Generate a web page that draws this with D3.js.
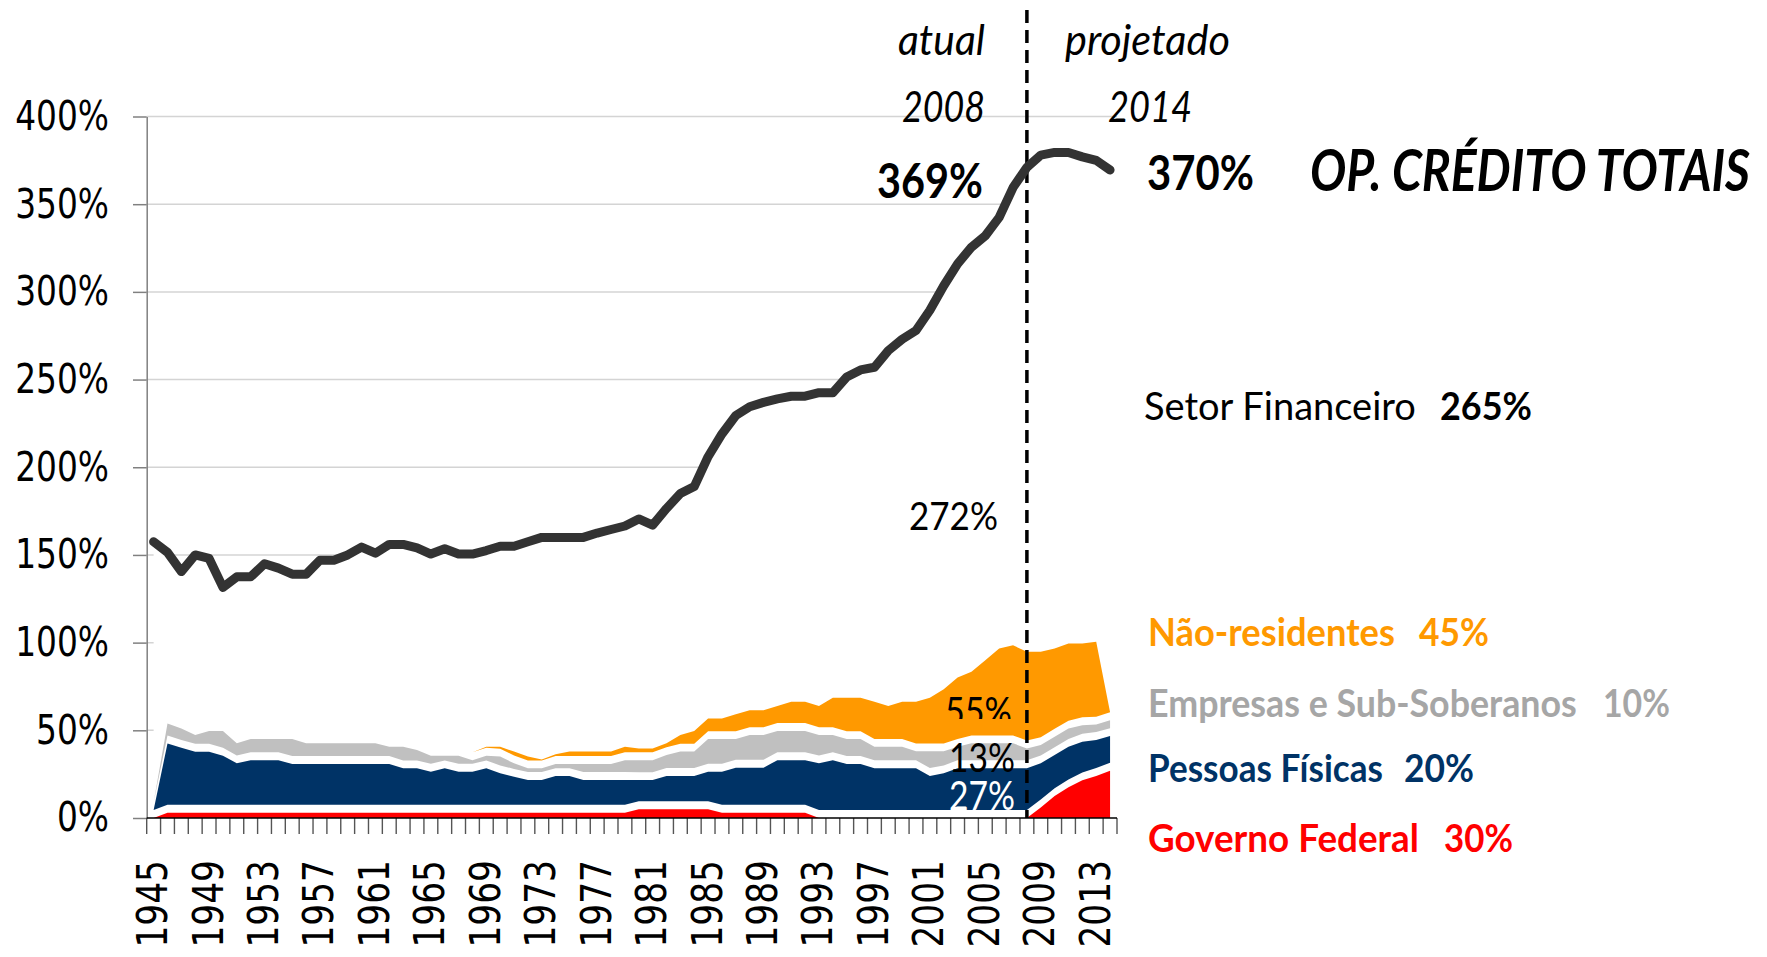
<!DOCTYPE html>
<html><head><meta charset="utf-8">
<script src="https://cdn.jsdelivr.net/npm/d3@7"></script>
<style>body{margin:0;background:#fff;} svg{display:block;}</style>
</head><body>
<svg id="chart" width="1767" height="957"></svg>
<script>
// ---------- DATA ----------
const years = [1945,1946,1947,1948,1949,1950,1951,1952,1953,1954,
  1955,1956,1957,1958,1959,1960,1961,1962,1963,1964,
  1965,1966,1967,1968,1969,1970,1971,1972,1973,1974,
  1975,1976,1977,1978,1979,1980,1981,1982,1983,1984,
  1985,1986,1987,1988,1989,1990,1991,1992,1993,1994,
  1995,1996,1997,1998,1999,2000,2001,2002,2003,2004,
  2005,2006,2007,2008,2009,2010,2011,2012,2013,2014];

// Operações de crédito totais (% do PIB)
const totalCredito = [157.5,151.5,140.5,150,148,131.5,137.5,137.5,145,142.5,
  139,139,147,147,150,154.5,151,156,156,154,
  150.5,153.5,150.5,150.5,152.5,155,155,157.5,160,160,
  160,160,162.5,164.5,166.5,170.5,167,176.5,185,189,
  206,219,229.5,234.5,237,239,240.5,240.5,242.5,242.5,
  251.5,255.5,257,266.5,273,278,289.5,303.5,316,325.5,
  332,342.5,359.5,371,378,379.5,379.5,377,375,369.5];

const governoFederal = [0,3,3,3,3,3,3,3,3,3,
  3,3,3,3,3,3,3,3,3,3,
  3,3,3,3,3,3,3,3,3,3,
  3,3,3,3,3,5,5,5,5,5,
  5,3,3,3,3,3,3,3,0,0,
  0,0,0,0,0,0,0,0,0,0,
  0,0,0,0,6,12.5,17.5,21.5,24,27];

const pessoasFisicas = [0,35,32.5,30.3,30.3,28,23.7,25.5,25.5,25.5,
  23.3,23.3,23.3,23.3,23.3,23.3,23.3,23.3,20.8,20.8,
  18.9,20.8,18.9,18.9,20.8,18,16,14.2,14.2,16.4,
  16.4,14.2,14.2,14.2,14.2,12.1,12.1,14.5,14.5,14.5,
  16.9,18.9,21.2,21.2,21.2,25.5,25.5,25.5,26.7,28.5,
  26.3,26.3,23.9,23.9,23.9,23.9,19.5,21,23.9,23.9,
  23.9,23.9,23.9,23.9,20.7,18.9,18.6,17.5,16,15.2];

const empresasSubSoberanos = [0,6.9,6.5,5,7.3,9.6,6.9,7.5,7.5,7.5,
  9.7,7.3,7.3,7.3,7.3,7.3,7.3,5.3,7.8,6,
  4.6,2.7,4.6,2.1,2.7,5,3.2,2.1,2.1,2.4,
  2.4,4.6,4.6,4.6,6.8,6.9,6.9,7.4,9.4,9.4,
  14.1,14.1,11.8,14.1,14.1,12.1,12.1,12.1,11.6,9.8,
  9.7,9.7,7.7,7.7,7.7,5.1,9.5,8,7.7,9.7,
  9.7,9.7,9.7,6.8,5.9,6,5.9,4.9,4.3,4.6];

const naoResidentes = [0,0,0,0,0,0,0,0,0,0,
  0,0,0,0,0,0,0,0,0,0,
  0,0,0,0,0.6,1.1,2.2,2.2,0.6,1,
  2.6,2.6,2.6,2.6,3.1,2.2,2.2,2.2,4.9,7.2,
  7.3,7.3,9.6,9.7,9.7,9.7,12.2,12.2,12,16.8,
  19.1,19.1,21.2,18.7,21.2,23.8,26.1,30.9,35,36.3,
  42.9,49.6,51.4,50.6,48.7,45.8,44,42.1,42.7,0];

const yTicks = [0,50,100,150,200,250,300,350,400];
const xTickLabels = [1945,1949,1953,1957,1961,1965,1969,1973,1977,1981,1985,1989,1993,1997,2001,2005,2009,2013];
const splitYear = 2008;

// ---------- STYLE ----------
const GAP = 4.5;              // white separator between stacked bands (value units)
const FONT = 'Lato, "Open Sans", "Noto Sans", sans-serif';
const AXFONT = '"DejaVu Sans", Verdana, sans-serif';
const colors = {gov:'#FF0000', pf:'#003366', emp:'#C0C0C0', nr:'#FF9900'};

const svg = d3.select('#chart');
const x = d3.scaleBand().domain(years).range([146.7, 1117]).padding(0);
const y = d3.scaleLinear().domain([0, 400]).range([818, 116.5]);
const cx = d => x(d) + x.bandwidth() / 2;

// gridlines
svg.append('g').selectAll('line').data(yTicks.filter(v => v > 0)).join('line')
  .attr('x1', x.range()[0]).attr('x2', x.range()[1])
  .attr('y1', d => y(d)).attr('y2', d => y(d))
  .attr('stroke', '#D4D4D4').attr('stroke-width', 1.5);

// table for stacking
const table = years.map((yr, i) => ({
  year: yr, gov: governoFederal[i], g1: GAP, pf: pessoasFisicas[i], g2: GAP,
  emp: empresasSubSoberanos[i], g3: GAP, nr: naoResidentes[i], total: totalCredito[i]
}));
const stack = d3.stack().keys(['gov','g1','pf','g2','emp','g3','nr']);
const layers = stack(table);

// white "Setor Financeiro" area up to total (hides gridlines), carried to the plot edge
const last = table[table.length - 1];
const whitePts = table.map(d => [cx(d.year), d.total]).concat([[x.range()[1], last.total - 12]]);
svg.append('path').datum(whitePts)
  .attr('d', d3.area().x(d => d[0]).y0(y(0)).y1(d => y(d[1])))
  .attr('fill', '#fff');

const area = d3.area().x(d => cx(d.data.year)).y0(d => y(d[0])).y1(d => y(d[1]));
svg.append('g').selectAll('path').data(layers.filter(l => colors[l.key])).join('path')
  .attr('d', area).attr('fill', l => colors[l.key]);

// narrow, tall texts: font size fitted to the wanted width, then stretched vertically
function txt(str, x1, x2, base, o) {
  const t = (o.parent || svg).append('text').attr('x', 0).attr('y', 0)
    .attr('font-family', o.family || FONT).attr('font-size', o.size)
    .attr('font-weight', o.weight || 'normal').attr('font-style', o.style || 'normal')
    .attr('fill', o.fill || '#000').text(str);
  const L = t.node().getComputedTextLength();
  const k = (x2 - x1) / L;
  t.attr('font-size', o.size * k)
   .attr('transform', `translate(${x1},${base}) scale(1,${1 / k})`);
  return t;
}
svg.append('clipPath').attr('id', 'clip55').append('rect')
  .attr('x', 900).attr('y', 680).attr('width', 150).attr('height', 39);
const g55 = svg.append('g').attr('clip-path', 'url(#clip55)');
txt('55%', 945, 1012, 726, {size: 40, parent: g55});
txt('13%', 949, 1015, 772, {size: 40});
txt('27%', 949, 1015, 810, {size: 40, fill: '#fff'});
txt('272%', 909, 998, 530, {size: 38});

// dashed separator
svg.append('line').attr('x1', cx(splitYear)).attr('x2', cx(splitYear))
  .attr('y1', 10).attr('y2', y(0))
  .attr('stroke', '#000').attr('stroke-width', 3.5).attr('stroke-dasharray', '13,7');

// total line
svg.append('path').datum(table)
  .attr('d', d3.line().x(d => cx(d.year)).y(d => y(d.total)))
  .attr('fill', 'none').attr('stroke', '#333333').attr('stroke-width', 9)
  .attr('stroke-linejoin', 'round').attr('stroke-linecap', 'round');

// axes
const yAxis = svg.append('g').attr('transform', `translate(${x.range()[0]},0)`)
  .call(d3.axisLeft(y).tickValues(yTicks).tickSize(13.7).tickSizeOuter(0).tickPadding(24)
    .tickFormat(d => d + '%'));
yAxis.select('.domain').attr('stroke', '#808080').attr('stroke-width', 1.5);
yAxis.selectAll('.tick line').attr('stroke', '#808080').attr('stroke-width', 1.5);
yAxis.selectAll('.tick text').attr('font-family', AXFONT).attr('font-size', 40).attr('fill', '#000')
  .each(function () { const L = this.getComputedTextLength();
    d3.select(this).attr('textLength', L * 0.82).attr('lengthAdjust', 'spacingAndGlyphs'); });

const bounds = years.map(d => x(d)).concat([x.range()[1]]);
svg.append('g').selectAll('line').data(bounds).join('line')
  .attr('x1', d => d).attr('x2', d => d).attr('y1', y(0)).attr('y2', y(0) + 16)
  .attr('stroke', '#555').attr('stroke-width', 1.4);
svg.append('line').attr('x1', x.range()[0]).attr('x2', x.range()[1])
  .attr('y1', y(0)).attr('y2', y(0)).attr('stroke', '#000').attr('stroke-width', 1.5);

svg.append('g').selectAll('text').data(xTickLabels).join('text')
  .attr('transform', d => `translate(${cx(d) - 2},860) rotate(-90)`)
  .attr('text-anchor', 'end').attr('dy', '0.36em')
  .attr('font-family', AXFONT).attr('font-size', 43).attr('fill', '#000')
  .text(d => d)
  .each(function () { const L = this.getComputedTextLength();
    d3.select(this).attr('textLength', L * 0.8).attr('lengthAdjust', 'spacingAndGlyphs'); });

// annotations
txt('atual', 898, 985, 55, {size: 42, style: 'italic'});
txt('2008', 902, 985, 122, {size: 42, style: 'italic'});
txt('projetado', 1065, 1230, 55, {size: 42, style: 'italic'});
txt('2014', 1108, 1192, 122, {size: 42, style: 'italic'});
txt('369%', 877, 983, 198, {size: 47, weight: 'bold'});
txt('370%', 1147, 1254, 190, {size: 47, weight: 'bold'});
txt('OP. CRÉDITO TOTAIS', 1310, 1750, 191, {size: 57, weight: 'bold', style: 'italic'});

txt('Setor Financeiro', 1144, 1416, 420, {size: 39});
txt('265%', 1440, 1532, 420, {size: 39, weight: 'bold'});
txt('Não-residentes', 1148, 1395, 646, {size: 39, weight: 'bold', fill: colors.nr});
txt('45%', 1419, 1489, 646, {size: 39, weight: 'bold', fill: colors.nr});
txt('Empresas e Sub-Soberanos', 1148, 1577, 717, {size: 39, weight: 'bold', fill: '#A6A6A6'});
txt('10%', 1603, 1670, 717, {size: 39, weight: 'bold', fill: '#A6A6A6'});
txt('Pessoas Físicas', 1148, 1383, 782, {size: 39, weight: 'bold', fill: colors.pf});
txt('20%', 1404, 1474, 782, {size: 39, weight: 'bold', fill: colors.pf});
txt('Governo Federal', 1148, 1419, 852, {size: 39, weight: 'bold', fill: colors.gov});
txt('30%', 1444, 1513, 852, {size: 39, weight: 'bold', fill: colors.gov});
</script>
</body></html>
